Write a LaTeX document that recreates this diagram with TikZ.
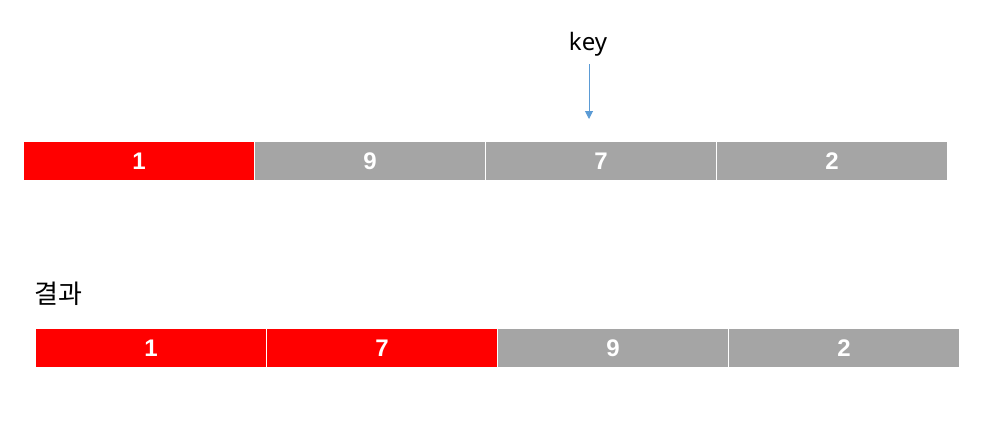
\documentclass[tikz,border=0pt]{standalone}
\usepackage{fontspec}
\setmainfont{Liberation Sans}
\newfontfamily\kr{Noto Sans CJK KR}
\newfontfamily\lat{Noto Sans}
\usetikzlibrary{arrows.meta}
\definecolor{cred}{HTML}{FF0000}
\definecolor{cgray}{HTML}{A5A5A5}
\definecolor{cblue}{HTML}{5B9BD5}
\tikzset{
  cell/.style={draw=white, line width=1.2pt, minimum width=231pt, minimum height=39pt, inner sep=0pt, text=white, font=\fontsize{24}{27}\selectfont\bfseries, anchor=north west},
  redcell/.style={cell, fill=cred},
  graycell/.style={cell, fill=cgray},
  lbl/.style={text=black, inner sep=0pt}
}
\begin{document}
\begin{tikzpicture}[x=1pt,y=-1pt]
\useasboundingbox (0,0) rectangle (993,440);
\node[redcell]  (a1) at (23,141)  {1};
\node[graycell] (a2) at (254,141) {9};
\node[graycell] (a3) at (485,141) {7};
\node[graycell] (a4) at (716,141) {2};
\node[lbl, font=\lat\fontsize{24}{28}\selectfont] (key) at (588,44) {key};
\coordinate (kt) at (589,119);
\draw[cblue, line width=1pt, -{Triangle[width=8pt,length=8pt]}] (589,64) -- (kt);
\node[lbl, anchor=west, font=\kr\fontsize{26}{30}\selectfont] (res) at (34,294) {결과};
\node[redcell]  (b1) at (35,328)  {1};
\node[redcell]  (b2) at (266,328) {7};
\node[graycell] (b3) at (497,328) {9};
\node[graycell] (b4) at (728,328) {2};
\end{tikzpicture}
\end{document}
